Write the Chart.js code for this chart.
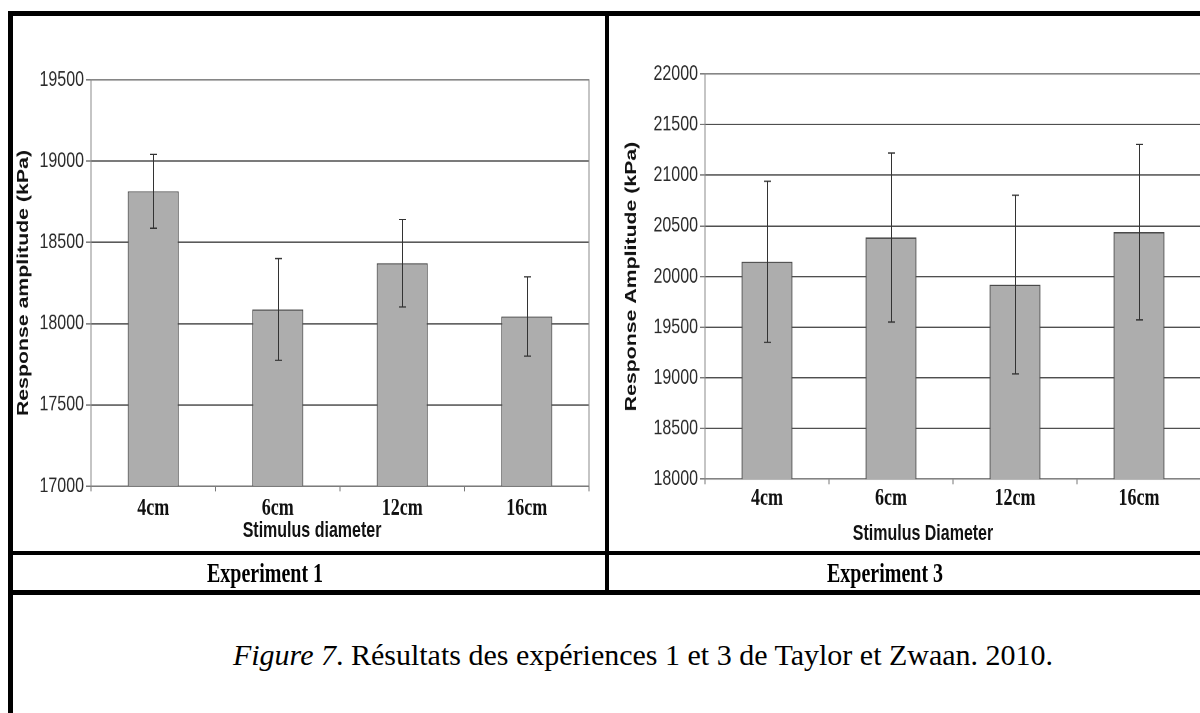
<!DOCTYPE html>
<html>
<head>
<meta charset="utf-8">
<script src="https://cdn.jsdelivr.net/npm/chart.js@4.4.1/dist/chart.umd.min.js"></script>
<style>
  html, body { margin: 0; padding: 0; background: #fff; }
  body { width: 1200px; height: 713px; position: relative; overflow: hidden; }
  .bar { position: absolute; background: #000; }
  .wrap { position: absolute; transform-origin: 0 0; transform: scaleY(1.33); }
  .lbl { position: absolute; white-space: nowrap; transform: translate(-50%, -50%) scaleY(1.33); color: #111; }
  .axt { font: bold 16px "Liberation Sans", Arial, sans-serif; }
  .exp { font: bold 20px "Liberation Serif", "Times New Roman", serif; color: #000; }
  .cap { position: absolute; white-space: nowrap; transform: translate(-50%, -50%);
         font: 30px "Liberation Serif", "Times New Roman", serif; color: #000; }
</style>
</head>
<body>
<!-- table frame -->
<div class="bar" style="left:8px; top:11px; width:1192px; height:5px;"></div>
<div class="bar" style="left:8px; top:11px; width:5px; height:702px;"></div>
<div class="bar" style="left:605px; top:11px; width:4px; height:583px;"></div>
<div class="bar" style="left:8px; top:551px; width:1192px; height:4px;"></div>
<div class="bar" style="left:8px; top:590px; width:1192px; height:5px;"></div>

<div class="wrap" style="left:14px; top:20px;"><canvas id="c1" width="591" height="395"></canvas></div>
<div class="wrap" style="left:610px; top:20px;"><canvas id="c2" width="610" height="395"></canvas></div>

<div class="lbl axt" style="left:312px; top:530px;">Stimulus diameter</div>
<div class="lbl axt" style="left:923px; top:533px;">Stimulus Diameter</div>
<div class="lbl exp" style="left:265px; top:573px;">Experiment 1</div>
<div class="lbl exp" style="left:885px; top:573px;">Experiment 3</div>
<div class="cap" style="left:643px; top:655px;"><i>Figure 7</i>. Résultats des expériences 1 et 3 de Taylor et Zwaan. 2010.</div>

<script>
const categories = ['4cm', '6cm', '12cm', '16cm'];

const exp1Means  = [18815, 18087, 18372, 18044];
const exp1Errors = [227, 313, 269, 244];
const exp1Ticks  = [17000, 17500, 18000, 18500, 19000, 19500];

const exp3Means  = [20145, 20385, 19920, 20438];
const exp3Errors = [795, 835, 882, 867];
const exp3Ticks  = [18000, 18500, 19000, 19500, 20000, 20500, 21000, 21500, 22000];

const errorBars = {
  id: 'errorBars',
  afterDatasetsDraw(chart, args, opts) {
    const ctx = chart.ctx;
    const meta = chart.getDatasetMeta(0);
    const ys = chart.scales.y;
    const vals = chart.data.datasets[0].data;
    ctx.save();
    ctx.strokeStyle = '#333';
    ctx.lineWidth = 1;
    meta.data.forEach((bar, i) => {
      const v = vals[i], e = opts.errors[i];
      const yt = ys.getPixelForValue(v + e);
      const yb = ys.getPixelForValue(v - e);
      const x = Math.round(bar.x) + 0.5;
      ctx.beginPath();
      ctx.moveTo(x, yt); ctx.lineTo(x, yb);
      ctx.moveTo(x - 3.5, yt); ctx.lineTo(x + 3.5, yt);
      ctx.moveTo(x - 3.5, yb); ctx.lineTo(x + 3.5, yb);
      ctx.stroke();
    });
    ctx.restore();
  }
};

const plotBorder = {
  id: 'plotBorder',
  beforeDatasetsDraw(chart) {
    const {ctx, chartArea: a} = chart;
    ctx.save();
    ctx.strokeStyle = '#8a8a8a';
    ctx.lineWidth = 1;
    ctx.strokeRect(a.left, a.top, a.right - a.left, a.bottom - a.top);
    ctx.restore();
  }
};

function makeChart(id, means, errors, ticks, yTitle, lay) {
  return new Chart(document.getElementById(id), {
    type: 'bar',
    data: {
      labels: categories,
      datasets: [{
        data: means,
        backgroundColor: '#adadad',
        borderColor: '#4a4a4a',
        borderWidth: 1,
        barPercentage: 0.41,
        categoryPercentage: 1.0
      }]
    },
    plugins: [plotBorder, errorBars],
    options: {
      responsive: false,
      animation: false,
      devicePixelRatio: 2,
      layout: { padding: lay.padding },
      plugins: {
        legend: { display: false },
        tooltip: { enabled: false },
        errorBars: { errors: errors }
      },
      scales: {
        x: {
          afterFit: s => { s.height = lay.xHeight; },
          grid: { display: true, drawOnChartArea: false, drawTicks: true, tickLength: 4, color: '#777', offset: true },
          border: { display: true, color: '#444', width: 1 },
          ticks: {
            padding: lay.xPad,
            color: '#111',
            font: { family: '"Liberation Serif", "Times New Roman", serif', size: 18, weight: 'bold' }
          }
        },
        y: {
          min: ticks[0],
          max: ticks[ticks.length - 1],
          afterFit: s => { s.width = lay.yWidth; },
          afterBuildTicks: s => { s.ticks = ticks.map(v => ({ value: v })); },
          grid: { color: '#4f4f4f', lineWidth: 1, drawTicks: true, tickLength: 5, tickColor: '#777' },
          border: { display: true, color: '#777', width: 1 },
          ticks: {
            padding: 2,
            color: '#2a2a2a',
            callback: v => String(v),
            font: { family: '"Liberation Sans", Arial, sans-serif', size: 16 }
          },
          title: {
            display: true,
            text: yTitle,
            padding: { top: 0, bottom: 0 },
            color: '#111',
            font: { family: '"Liberation Sans", Arial, sans-serif', size: 16, weight: 'bold' }
          }
        }
      }
    }
  });
}

makeChart('c1', exp1Means, exp1Errors, exp1Ticks, 'Response amplitude (kPa)',
  { padding: { top: 45.1, left: 0, right: 16, bottom: 0 }, yWidth: 77, xHeight: 44.6, xPad: 2 });
makeChart('c2', exp3Means, exp3Errors, exp3Ticks, 'Response Amplitude (kPa)',
  { padding: { top: 40.6, left: 12, right: 19, bottom: 0 }, yWidth: 83, xHeight: 49.9, xPad: 0 });
</script>
</body>
</html>
